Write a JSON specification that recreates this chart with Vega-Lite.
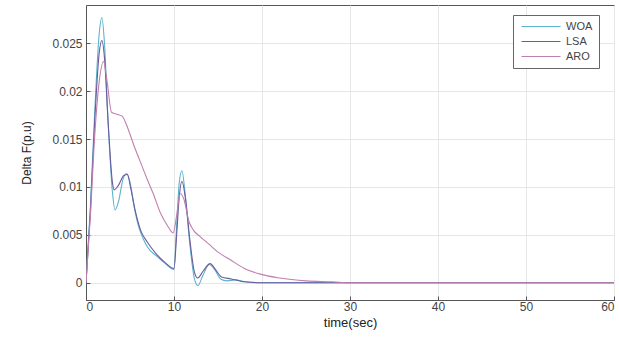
{
  "$schema": "https://vega.github.io/schema/vega-lite/v6.json",
  "width": 528,
  "height": 295,
  "autosize": {"type": "none"},
  "padding": {"left": 86, "top": 5, "right": 5, "bottom": 43},
  "background": "white",
  "config": {
    "view": {"stroke": "#555555", "strokeWidth": 1},
    "font": "Liberation Sans",
    "axis": {
      "gridColor": "#e6e6e6",
      "gridWidth": 1,
      "domainColor": "#555555",
      "tickColor": "#555555",
      "tickSize": -4,
      "labelColor": "#444444",
      "labelFontSize": 12,
      "titleColor": "#222222",
      "titleFontSize": 12,
      "titleFontWeight": "normal"
    }
  },
  "data": {
    "values": [
      {"t": 0, "v": 0, "s": "WOA"}, {"t": 0.5, "v": 0.008, "s": "WOA"}, {"t": 1, "v": 0.018, "s": "WOA"}, {"t": 1.5, "v": 0.026, "s": "WOA"}, {"t": 1.8, "v": 0.0277, "s": "WOA"}, {"t": 2.1, "v": 0.025, "s": "WOA"}, {"t": 2.5, "v": 0.017, "s": "WOA"}, {"t": 3, "v": 0.0095, "s": "WOA"}, {"t": 3.3, "v": 0.0076, "s": "WOA"}, {"t": 3.7, "v": 0.0085, "s": "WOA"}, {"t": 4.2, "v": 0.0108, "s": "WOA"}, {"t": 4.6, "v": 0.0114, "s": "WOA"}, {"t": 5, "v": 0.0105, "s": "WOA"}, {"t": 5.5, "v": 0.0078, "s": "WOA"}, {"t": 6, "v": 0.0058, "s": "WOA"}, {"t": 6.5, "v": 0.0046, "s": "WOA"}, {"t": 7, "v": 0.0037, "s": "WOA"}, {"t": 8, "v": 0.0028, "s": "WOA"}, {"t": 9, "v": 0.002, "s": "WOA"}, {"t": 10, "v": 0.0014, "s": "WOA"}, {"t": 10.3, "v": 0.006, "s": "WOA"}, {"t": 10.6, "v": 0.0105, "s": "WOA"}, {"t": 10.9, "v": 0.0117, "s": "WOA"}, {"t": 11.3, "v": 0.009, "s": "WOA"}, {"t": 11.8, "v": 0.004, "s": "WOA"}, {"t": 12.3, "v": 0.0005, "s": "WOA"}, {"t": 12.7, "v": -0.0003, "s": "WOA"}, {"t": 13.3, "v": 0.0008, "s": "WOA"}, {"t": 14, "v": 0.0019, "s": "WOA"}, {"t": 14.6, "v": 0.0014, "s": "WOA"}, {"t": 15.3, "v": 0.0004, "s": "WOA"}, {"t": 16, "v": 0.0002, "s": "WOA"}, {"t": 17, "v": 0.0003, "s": "WOA"}, {"t": 18, "v": 0.0001, "s": "WOA"}, {"t": 20, "v": 0, "s": "WOA"}, {"t": 60, "v": 0, "s": "WOA"},
      {"t": 0, "v": 0, "s": "LSA"}, {"t": 0.5, "v": 0.0075, "s": "LSA"}, {"t": 1, "v": 0.017, "s": "LSA"}, {"t": 1.5, "v": 0.024, "s": "LSA"}, {"t": 1.8, "v": 0.0253, "s": "LSA"}, {"t": 2.1, "v": 0.0235, "s": "LSA"}, {"t": 2.5, "v": 0.017, "s": "LSA"}, {"t": 3, "v": 0.0105, "s": "LSA"}, {"t": 3.2, "v": 0.0097, "s": "LSA"}, {"t": 3.7, "v": 0.0102, "s": "LSA"}, {"t": 4.3, "v": 0.0112, "s": "LSA"}, {"t": 4.7, "v": 0.0113, "s": "LSA"}, {"t": 5.1, "v": 0.0098, "s": "LSA"}, {"t": 5.6, "v": 0.0075, "s": "LSA"}, {"t": 6.2, "v": 0.0055, "s": "LSA"}, {"t": 7, "v": 0.0042, "s": "LSA"}, {"t": 8, "v": 0.003, "s": "LSA"}, {"t": 9, "v": 0.0021, "s": "LSA"}, {"t": 10, "v": 0.0015, "s": "LSA"}, {"t": 10.3, "v": 0.005, "s": "LSA"}, {"t": 10.6, "v": 0.009, "s": "LSA"}, {"t": 10.9, "v": 0.0106, "s": "LSA"}, {"t": 11.3, "v": 0.0088, "s": "LSA"}, {"t": 11.8, "v": 0.0045, "s": "LSA"}, {"t": 12.3, "v": 0.0012, "s": "LSA"}, {"t": 12.7, "v": 0.0005, "s": "LSA"}, {"t": 13.3, "v": 0.0012, "s": "LSA"}, {"t": 14.1, "v": 0.002, "s": "LSA"}, {"t": 14.7, "v": 0.0014, "s": "LSA"}, {"t": 15.4, "v": 0.0006, "s": "LSA"}, {"t": 16.5, "v": 0.0004, "s": "LSA"}, {"t": 18, "v": 0.0001, "s": "LSA"}, {"t": 20, "v": 0, "s": "LSA"}, {"t": 60, "v": 0, "s": "LSA"},
      {"t": 0, "v": 0, "s": "ARO"}, {"t": 0.5, "v": 0.007, "s": "ARO"}, {"t": 1, "v": 0.0155, "s": "ARO"}, {"t": 1.5, "v": 0.021, "s": "ARO"}, {"t": 2, "v": 0.0231, "s": "ARO"}, {"t": 2.4, "v": 0.021, "s": "ARO"}, {"t": 2.9, "v": 0.0178, "s": "ARO"}, {"t": 3.5, "v": 0.0176, "s": "ARO"}, {"t": 4.1, "v": 0.0174, "s": "ARO"}, {"t": 4.6, "v": 0.0165, "s": "ARO"}, {"t": 5, "v": 0.0155, "s": "ARO"}, {"t": 5.5, "v": 0.0142, "s": "ARO"}, {"t": 6.1, "v": 0.0128, "s": "ARO"}, {"t": 7, "v": 0.0107, "s": "ARO"}, {"t": 7.6, "v": 0.0094, "s": "ARO"}, {"t": 8.5, "v": 0.0072, "s": "ARO"}, {"t": 9.3, "v": 0.0059, "s": "ARO"}, {"t": 9.9, "v": 0.0052, "s": "ARO"}, {"t": 10.3, "v": 0.007, "s": "ARO"}, {"t": 10.7, "v": 0.0093, "s": "ARO"}, {"t": 11.1, "v": 0.0088, "s": "ARO"}, {"t": 11.7, "v": 0.0064, "s": "ARO"}, {"t": 12.2, "v": 0.0055, "s": "ARO"}, {"t": 13, "v": 0.0048, "s": "ARO"}, {"t": 14, "v": 0.004, "s": "ARO"}, {"t": 15, "v": 0.0032, "s": "ARO"}, {"t": 16.4, "v": 0.0024, "s": "ARO"}, {"t": 18, "v": 0.0015, "s": "ARO"}, {"t": 19.8, "v": 0.0009, "s": "ARO"}, {"t": 22, "v": 0.0005, "s": "ARO"}, {"t": 25, "v": 0.0002, "s": "ARO"}, {"t": 28, "v": 0.0001, "s": "ARO"}, {"t": 30, "v": 0, "s": "ARO"}, {"t": 60, "v": 0, "s": "ARO"}
    ]
  },
  "mark": {"type": "line", "strokeWidth": 1.1, "interpolate": "monotone", "clip": true},
  "encoding": {
    "x": {
      "field": "t", "type": "quantitative",
      "scale": {"domain": [0, 60], "nice": false},
      "axis": {"title": "time(sec)", "titleFontSize": 13, "values": [0, 10, 20, 30, 40, 50, 60], "titlePadding": 4, "labelPadding": 5}
    },
    "y": {
      "field": "v", "type": "quantitative",
      "scale": {"domain": [-0.0018, 0.029], "nice": false, "zero": false},
      "axis": {"title": "Delta F(p.u)", "values": [0, 0.005, 0.01, 0.015, 0.02, 0.025], "format": "~g", "titlePadding": 18, "labelPadding": 8}
    },
    "color": {
      "field": "s", "type": "nominal",
      "scale": {"domain": ["WOA", "LSA", "ARO"], "range": ["#5cb3cc", "#6a5b9c", "#c07fae"]},
      "legend": {
        "title": null,
        "orient": "none",
        "legendX": 427,
        "legendY": 10,
        "symbolType": "M-1,0H12",
        "symbolSize": 36,
        "symbolStrokeWidth": 1.1,
        "strokeColor": "#666666",
        "fillColor": "white",
        "padding": 6,
        "rowPadding": 3,
        "labelFontSize": 11,
        "labelColor": "#444444",
        "labelOffset": 36
      }
    }
  }
}
